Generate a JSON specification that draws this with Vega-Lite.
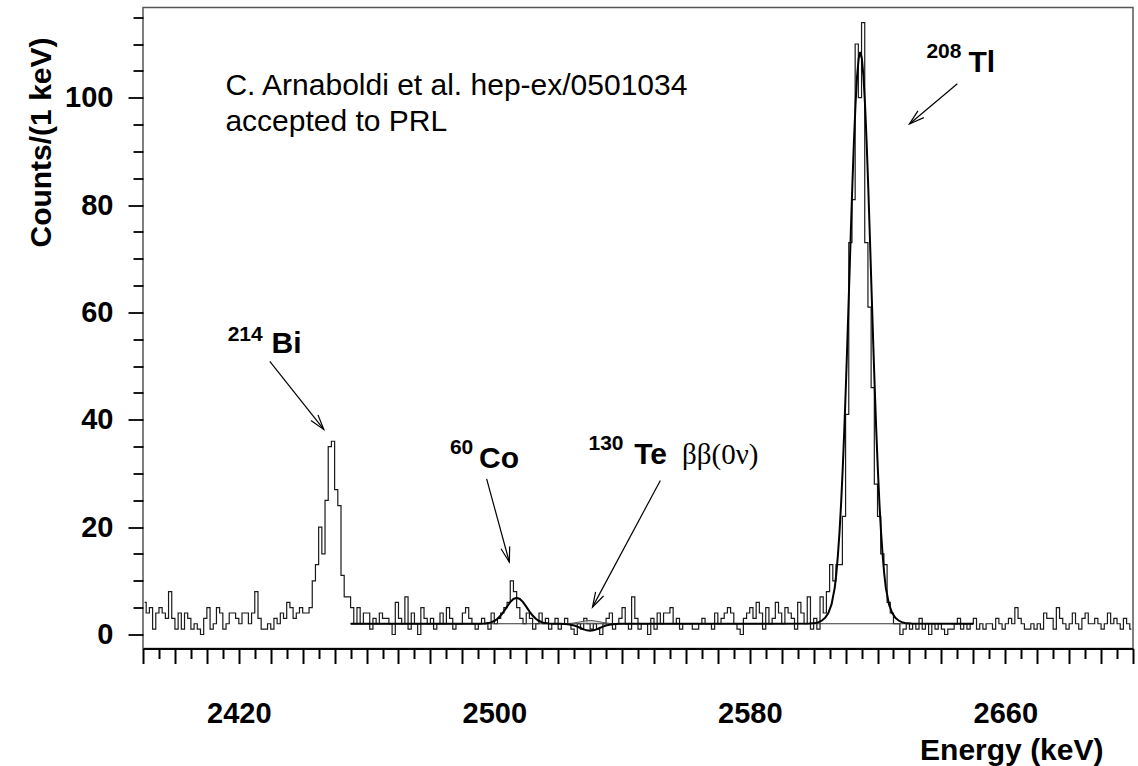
{
  "$schema": "https://vega.github.io/schema/vega-lite/v6.json",
  "width": 990,
  "height": 641,
  "autosize": {"type": "none"},
  "padding": {"left": 143, "top": 7.5, "right": 5, "bottom": 117.5},
  "background": "white",
  "config": {
    "view": {"stroke": "#555", "strokeWidth": 1.5},
    "font": "Liberation Sans"
  },
  "datasets": {
    "hist": [
      {"e":2390.5,"n":6},{"e":2391.5,"n":4},{"e":2392.5,"n":5},{"e":2393.5,"n":1},{"e":2394.5,"n":4},{"e":2395.5,"n":5},{"e":2396.5,"n":4},{"e":2397.5,"n":3},{"e":2398.5,"n":8},{"e":2399.5,"n":3},
      {"e":2400.5,"n":1},{"e":2401.5,"n":4},{"e":2402.5,"n":1},{"e":2403.5,"n":4},{"e":2404.5,"n":3},{"e":2405.5,"n":1},{"e":2406.5,"n":2},{"e":2407.5,"n":1},{"e":2408.5,"n":0},{"e":2409.5,"n":3},
      {"e":2410.5,"n":5},{"e":2411.5,"n":1},{"e":2412.5,"n":2},{"e":2413.5,"n":5},{"e":2414.5,"n":4},{"e":2415.5,"n":1},{"e":2416.5,"n":2},{"e":2417.5,"n":4},{"e":2418.5,"n":4},{"e":2419.5,"n":3},
      {"e":2420.5,"n":2},{"e":2421.5,"n":4},{"e":2422.5,"n":4},{"e":2423.5,"n":2},{"e":2424.5,"n":4},{"e":2425.5,"n":8},{"e":2426.5,"n":3},{"e":2427.5,"n":1},{"e":2428.5,"n":1},{"e":2429.5,"n":2},
      {"e":2430.5,"n":1},{"e":2431.5,"n":3},{"e":2432.5,"n":2},{"e":2433.5,"n":4},{"e":2434.5,"n":3},{"e":2435.5,"n":6},{"e":2436.5,"n":5},{"e":2437.5,"n":3},{"e":2438.5,"n":4},{"e":2439.5,"n":5},
      {"e":2440.5,"n":4},{"e":2441.5,"n":4},{"e":2442.5,"n":5},{"e":2443.5,"n":10},{"e":2444.5,"n":13},{"e":2445.5,"n":20},{"e":2446.5,"n":15},{"e":2447.5,"n":25},{"e":2448.5,"n":35},{"e":2449.5,"n":36},
      {"e":2450.5,"n":27},{"e":2451.5,"n":24},{"e":2452.5,"n":11},{"e":2453.5,"n":7},{"e":2454.5,"n":7},{"e":2455.5,"n":5},{"e":2456.5,"n":2},{"e":2457.5,"n":5},{"e":2458.5,"n":2},{"e":2459.5,"n":4},
      {"e":2460.5,"n":4},{"e":2461.5,"n":1},{"e":2462.5,"n":3},{"e":2463.5,"n":2},{"e":2464.5,"n":4},{"e":2465.5,"n":3},{"e":2466.5,"n":3},{"e":2467.5,"n":2},{"e":2468.5,"n":0},{"e":2469.5,"n":6},
      {"e":2470.5,"n":3},{"e":2471.5,"n":2},{"e":2472.5,"n":7},{"e":2473.5,"n":1},{"e":2474.5,"n":4},{"e":2475.5,"n":2},{"e":2476.5,"n":0},{"e":2477.5,"n":5},{"e":2478.5,"n":3},{"e":2479.5,"n":2},
      {"e":2480.5,"n":3},{"e":2481.5,"n":1},{"e":2482.5,"n":2},{"e":2483.5,"n":4},{"e":2484.5,"n":2},{"e":2485.5,"n":5},{"e":2486.5,"n":3},{"e":2487.5,"n":1},{"e":2488.5,"n":2},{"e":2489.5,"n":2},
      {"e":2490.5,"n":4},{"e":2491.5,"n":5},{"e":2492.5,"n":3},{"e":2493.5,"n":2},{"e":2494.5,"n":1},{"e":2495.5,"n":2},{"e":2496.5,"n":3},{"e":2497.5,"n":2},{"e":2498.5,"n":1},{"e":2499.5,"n":4},
      {"e":2500.5,"n":2},{"e":2501.5,"n":3},{"e":2502.5,"n":4},{"e":2503.5,"n":5},{"e":2504.5,"n":6},{"e":2505.5,"n":10},{"e":2506.5,"n":8},{"e":2507.5,"n":5},{"e":2508.5,"n":3},{"e":2509.5,"n":2},
      {"e":2510.5,"n":4},{"e":2511.5,"n":3},{"e":2512.5,"n":1},{"e":2513.5,"n":2},{"e":2514.5,"n":4},{"e":2515.5,"n":2},{"e":2516.5,"n":3},{"e":2517.5,"n":1},{"e":2518.5,"n":2},{"e":2519.5,"n":3},
      {"e":2520.5,"n":1},{"e":2521.5,"n":2},{"e":2522.5,"n":3},{"e":2523.5,"n":2},{"e":2524.5,"n":1},{"e":2525.5,"n":0},{"e":2526.5,"n":2},{"e":2527.5,"n":1},{"e":2528.5,"n":3},{"e":2529.5,"n":2},
      {"e":2530.5,"n":1},{"e":2531.5,"n":2},{"e":2532.5,"n":1},{"e":2533.5,"n":0},{"e":2534.5,"n":2},{"e":2535.5,"n":3},{"e":2536.5,"n":4},{"e":2537.5,"n":1},{"e":2538.5,"n":2},{"e":2539.5,"n":3},
      {"e":2540.5,"n":5},{"e":2541.5,"n":2},{"e":2542.5,"n":1},{"e":2543.5,"n":7},{"e":2544.5,"n":3},{"e":2545.5,"n":1},{"e":2546.5,"n":2},{"e":2547.5,"n":2},{"e":2548.5,"n":0},{"e":2549.5,"n":3},
      {"e":2550.5,"n":1},{"e":2551.5,"n":4},{"e":2552.5,"n":2},{"e":2553.5,"n":4},{"e":2554.5,"n":4},{"e":2555.5,"n":5},{"e":2556.5,"n":2},{"e":2557.5,"n":3},{"e":2558.5,"n":1},{"e":2559.5,"n":2},
      {"e":2560.5,"n":2},{"e":2561.5,"n":2},{"e":2562.5,"n":1},{"e":2563.5,"n":1},{"e":2564.5,"n":2},{"e":2565.5,"n":3},{"e":2566.5,"n":2},{"e":2567.5,"n":2},{"e":2568.5,"n":1},{"e":2569.5,"n":4},
      {"e":2570.5,"n":2},{"e":2571.5,"n":3},{"e":2572.5,"n":4},{"e":2573.5,"n":5},{"e":2574.5,"n":4},{"e":2575.5,"n":2},{"e":2576.5,"n":1},{"e":2577.5,"n":0},{"e":2578.5,"n":3},{"e":2579.5,"n":4},
      {"e":2580.5,"n":5},{"e":2581.5,"n":3},{"e":2582.5,"n":6},{"e":2583.5,"n":4},{"e":2584.5,"n":1},{"e":2585.5,"n":5},{"e":2586.5,"n":2},{"e":2587.5,"n":3},{"e":2588.5,"n":6},{"e":2589.5,"n":4},
      {"e":2590.5,"n":2},{"e":2591.5,"n":5},{"e":2592.5,"n":4},{"e":2593.5,"n":3},{"e":2594.5,"n":1},{"e":2595.5,"n":6},{"e":2596.5,"n":4},{"e":2597.5,"n":2},{"e":2598.5,"n":7},{"e":2599.5,"n":1},
      {"e":2600.5,"n":3},{"e":2601.5,"n":1},{"e":2602.5,"n":7},{"e":2603.5,"n":4},{"e":2604.5,"n":8},{"e":2605.5,"n":13},{"e":2606.5,"n":10},{"e":2607.5,"n":13},{"e":2608.5,"n":13},{"e":2609.5,"n":22},
      {"e":2610.5,"n":41},{"e":2611.5,"n":73},{"e":2612.5,"n":81},{"e":2613.5,"n":110},{"e":2614.5,"n":100},{"e":2615.5,"n":114},{"e":2616.5,"n":73},{"e":2617.5,"n":61},{"e":2618.5,"n":46},{"e":2619.5,"n":28},
      {"e":2620.5,"n":22},{"e":2621.5,"n":15},{"e":2622.5,"n":13},{"e":2623.5,"n":6},{"e":2624.5,"n":4},{"e":2625.5,"n":2},{"e":2626.5,"n":2},{"e":2627.5,"n":0},{"e":2628.5,"n":1},{"e":2629.5,"n":2},
      {"e":2630.5,"n":1},{"e":2631.5,"n":2},{"e":2632.5,"n":1},{"e":2633.5,"n":3},{"e":2634.5,"n":1},{"e":2635.5,"n":2},{"e":2636.5,"n":0},{"e":2637.5,"n":2},{"e":2638.5,"n":1},{"e":2639.5,"n":2},
      {"e":2640.5,"n":1},{"e":2641.5,"n":0},{"e":2642.5,"n":1},{"e":2643.5,"n":1},{"e":2644.5,"n":2},{"e":2645.5,"n":3},{"e":2646.5,"n":1},{"e":2647.5,"n":2},{"e":2648.5,"n":1},{"e":2649.5,"n":2},
      {"e":2650.5,"n":3},{"e":2651.5,"n":1},{"e":2652.5,"n":2},{"e":2653.5,"n":1},{"e":2654.5,"n":2},{"e":2655.5,"n":2},{"e":2656.5,"n":1},{"e":2657.5,"n":3},{"e":2658.5,"n":2},{"e":2659.5,"n":1},
      {"e":2660.5,"n":2},{"e":2661.5,"n":3},{"e":2662.5,"n":2},{"e":2663.5,"n":5},{"e":2664.5,"n":3},{"e":2665.5,"n":2},{"e":2666.5,"n":1},{"e":2667.5,"n":1},{"e":2668.5,"n":2},{"e":2669.5,"n":1},
      {"e":2670.5,"n":2},{"e":2671.5,"n":1},{"e":2672.5,"n":4},{"e":2673.5,"n":3},{"e":2674.5,"n":3},{"e":2675.5,"n":1},{"e":2676.5,"n":5},{"e":2677.5,"n":3},{"e":2678.5,"n":2},{"e":2679.5,"n":1},
      {"e":2680.5,"n":2},{"e":2681.5,"n":4},{"e":2682.5,"n":2},{"e":2683.5,"n":1},{"e":2684.5,"n":3},{"e":2685.5,"n":4},{"e":2686.5,"n":2},{"e":2687.5,"n":2},{"e":2688.5,"n":3},{"e":2689.5,"n":2},
      {"e":2690.5,"n":1},{"e":2691.5,"n":2},{"e":2692.5,"n":4},{"e":2693.5,"n":2},{"e":2694.5,"n":3},{"e":2695.5,"n":2},{"e":2696.5,"n":1},{"e":2697.5,"n":3},{"e":2698.5,"n":2},{"e":2699.5,"n":1}
    ],
    "fit": [
      {"e":2455,"f":2},{"e":2495,"f":2.01},{"e":2497,"f":2.05},{"e":2498,"f":2.12},{"e":2499,"f":2.26},{"e":2500,"f":2.51},{"e":2501,"f":2.93},{"e":2502,"f":3.54},{"e":2503,"f":4.32},{"e":2504,"f":5.2},{"e":2505,"f":6.03},{"e":2506,"f":6.62},{"e":2507,"f":6.84},{"e":2508,"f":6.62},{"e":2509,"f":6.03},{"e":2510,"f":5.2},{"e":2511,"f":4.32},{"e":2512,"f":3.54},{"e":2513,"f":2.93},{"e":2514,"f":2.51},{"e":2515,"f":2.26},{"e":2516,"f":2.12},{"e":2517,"f":2.05},{"e":2519,"f":2.01},
      {"e":2521,"f":1.99},{"e":2522,"f":1.96},{"e":2523,"f":1.91},{"e":2524,"f":1.82},{"e":2525,"f":1.68},{"e":2526,"f":1.47},{"e":2527,"f":1.21},{"e":2528,"f":0.96},{"e":2529,"f":0.77},{"e":2530,"f":0.7},{"e":2531,"f":0.77},{"e":2532,"f":0.96},{"e":2533,"f":1.21},{"e":2534,"f":1.47},{"e":2535,"f":1.68},{"e":2536,"f":1.82},{"e":2537,"f":1.91},{"e":2538,"f":1.96},{"e":2539,"f":1.99},{"e":2541,"f":2.0},
      {"e":2598.6,"f":2.03},{"e":2600.6,"f":2.15},{"e":2601.6,"f":2.3},{"e":2602.6,"f":2.6},{"e":2603.6,"f":3.1},{"e":2604.6,"f":4.0},{"e":2605.6,"f":5.6},{"e":2606.6,"f":8.69},{"e":2607.1,"f":11.35},{"e":2607.6,"f":14.8},{"e":2608.1,"f":19.1},{"e":2608.6,"f":24.4},{"e":2609.1,"f":30.8},{"e":2609.6,"f":38.1},{"e":2610.1,"f":46.4},{"e":2610.6,"f":55.3},{"e":2611.1,"f":64.7},{"e":2611.6,"f":74.2},{"e":2612.1,"f":83.3},{"e":2612.6,"f":91.6},{"e":2613.1,"f":98.6},{"e":2613.6,"f":104.0},{"e":2614.1,"f":107.3},{"e":2614.6,"f":108.5},
      {"e":2615.1,"f":107.3},{"e":2615.6,"f":104.0},{"e":2616.1,"f":98.6},{"e":2616.6,"f":91.6},{"e":2617.1,"f":83.3},{"e":2617.6,"f":74.2},{"e":2618.1,"f":64.7},{"e":2618.6,"f":55.3},{"e":2619.1,"f":46.4},{"e":2619.6,"f":38.1},{"e":2620.1,"f":30.8},{"e":2620.6,"f":24.4},{"e":2621.1,"f":19.1},{"e":2621.6,"f":14.8},{"e":2622.1,"f":11.35},{"e":2622.6,"f":8.69},{"e":2623.6,"f":5.6},{"e":2624.6,"f":4.0},{"e":2625.6,"f":3.1},{"e":2626.6,"f":2.6},{"e":2627.6,"f":2.3},{"e":2628.6,"f":2.15},{"e":2630.6,"f":2.03},{"e":2650,"f":2.0}
    ],
    "ul": [
      {"e":2520,"f":2.0},{"e":2521,"f":2.01},{"e":2522,"f":2.02},{"e":2523,"f":2.04},{"e":2524,"f":2.08},{"e":2525,"f":2.15},{"e":2526,"f":2.25},{"e":2527,"f":2.36},{"e":2528,"f":2.48},{"e":2529,"f":2.57},{"e":2530,"f":2.6},{"e":2531,"f":2.57},{"e":2532,"f":2.48},{"e":2533,"f":2.36},{"e":2534,"f":2.25},{"e":2535,"f":2.15},{"e":2536,"f":2.08},{"e":2537,"f":2.04},{"e":2538,"f":2.02},{"e":2539,"f":2.01},{"e":2540,"f":2.0}
    ],
    "bg": [{"e":2455,"f":2},{"e":2650,"f":2}],
    "arrows": [
      {"id":"Bi","x":2429.7,"y":50.9,"x2":2446.6,"y2":38.2},
      {"id":"Co","x":2497.6,"y":29.0,"x2":2504.7,"y2":13.5},
      {"id":"Te","x":2552.0,"y":28.7,"x2":2530.75,"y2":5.1},
      {"id":"Tl","x":2645.0,"y":102.6,"x2":2630.0,"y2":95.1}
    ],
    "big": [
      {"x":2430.25,"y":52.4,"t":"Bi"},
      {"x":2495.2,"y":31.1,"t":"Co"},
      {"x":2543.8,"y":31.8,"t":"Te"},
      {"x":2648.5,"y":104.8,"t":"Tl"}
    ],
    "sup": [
      {"x":2416.5,"y":54.7,"t":"214"},
      {"x":2486.1,"y":33.7,"t":"60"},
      {"x":2529.5,"y":34.4,"t":"130"},
      {"x":2635.3,"y":107.4,"t":"208"}
    ],
    "cite": [
      {"x":2415.8,"y":100.5,"t":"C. Arnaboldi et al. hep-ex/0501034"},
      {"x":2415.8,"y":93.8,"t":"accepted to PRL"}
    ],
    "greek": [{"x":2558.8,"y":31.8,"t":"ββ(0ν)"}]
  },
  "layer": [
    {
      "data": {"name": "hist"},
      "mark": {"type": "line", "interpolate": "step", "color": "#1a1a1a", "strokeWidth": 1.2},
      "encoding": {
        "x": {
          "field": "e", "type": "quantitative",
          "scale": {"domain": [2390, 2700], "nice": false, "zero": false},
          "axis": {
            "values": [2390,2395,2400,2405,2410,2415,2420,2425,2430,2435,2440,2445,2450,2455,2460,2465,2470,2475,2480,2485,2490,2495,2500,2505,2510,2515,2520,2525,2530,2535,2540,2545,2550,2555,2560,2565,2570,2575,2580,2585,2590,2595,2600,2605,2610,2615,2620,2625,2630,2635,2640,2645,2650,2655,2660,2665,2670,2675,2680,2685,2690,2695,2700],
            "tickCount": 500,
            "format": "d",
            "labelExpr": "datum.value % 80 == 20 ? datum.label : ''",
            "tickSize": {"condition": {"test": "datum.value % 10 == 0", "value": 15}, "value": 10},
            "tickWidth": 2, "tickColor": "black",
            "domainColor": "black", "domainWidth": 2,
            "grid": false,
            "labelFont": "Liberation Sans", "labelFontWeight": "bold", "labelFontSize": 29, "labelColor": "black",
            "labelPadding": 36, "labelOverlap": false, "labelFlush": false, "labelBound": false,
            "title": "Energy (keV)",
            "titleFont": "Liberation Sans", "titleFontWeight": "bold", "titleFontSize": 30, "titleColor": "black",
            "titleAlign": "right", "titleBaseline": "alphabetic", "titleX": 960, "titleY": 110.5
          }
        },
        "y": {
          "field": "n", "type": "quantitative",
          "scale": {"domain": [-2.61, 116.8], "nice": false, "zero": false},
          "axis": {
            "values": [0,5,10,15,20,25,30,35,40,45,50,55,60,65,70,75,80,85,90,95,100,105,110,115],
            "tickCount": 500,
            "format": "d",
            "labelExpr": "datum.value % 20 == 0 ? datum.label : ''",
            "tickSize": {"condition": {"test": "datum.value % 20 == 0", "value": 15}, "value": 10},
            "tickWidth": 1.8, "tickColor": "black",
            "domain": false,
            "grid": false,
            "labelFont": "Liberation Sans", "labelFontWeight": "bold", "labelFontSize": 29, "labelColor": "black",
            "labelPadding": 15, "labelOverlap": false, "labelFlush": false, "labelBound": false, "labelBaseline": "middle",
            "title": "Counts/(1 keV)",
            "titleFont": "Liberation Sans", "titleFontWeight": "bold", "titleFontSize": 30, "titleColor": "black",
            "titleAngle": -90, "titleAlign": "right", "titleBaseline": "alphabetic", "titleX": -93, "titleY": 29.5
          }
        }
      }
    },
    {
      "data": {"name": "ul"},
      "mark": {"type": "area", "color": "#c8c8c8", "opacity": 0.8},
      "encoding": {
        "x": {"field": "e", "type": "quantitative"},
        "y": {"field": "f", "type": "quantitative"},
        "y2": {"datum": 2}
      }
    },
    {
      "data": {"name": "bg"},
      "mark": {"type": "line", "color": "#333", "strokeWidth": 1},
      "encoding": {
        "x": {"field": "e", "type": "quantitative"},
        "y": {"field": "f", "type": "quantitative"}
      }
    },
    {
      "data": {"name": "ul"},
      "mark": {"type": "line", "color": "#555", "strokeWidth": 1},
      "encoding": {
        "x": {"field": "e", "type": "quantitative"},
        "y": {"field": "f", "type": "quantitative"}
      }
    },
    {
      "data": {"name": "fit"},
      "mark": {"type": "line", "color": "black", "strokeWidth": 2},
      "encoding": {
        "x": {"field": "e", "type": "quantitative"},
        "y": {"field": "f", "type": "quantitative"}
      }
    },
    {
      "data": {"name": "arrows"},
      "mark": {"type": "rule", "color": "black", "strokeWidth": 1.2},
      "encoding": {
        "x": {"field": "x", "type": "quantitative"},
        "y": {"field": "y", "type": "quantitative"},
        "x2": {"field": "x2"},
        "y2": {"field": "y2"}
      }
    },
    {
      "data": {"name": "arrows"},
      "transform": [{"filter": "datum.id == 'Bi'"}],
      "mark": {"type": "point", "shape": "M -0.3 -1 L 0 0 L 0.3 -1", "size": 900, "filled": false, "stroke": "black", "strokeWidth": 1.2, "opacity": 1, "angle": -38.3},
      "encoding": {"x": {"field": "x2", "type": "quantitative"}, "y": {"field": "y2", "type": "quantitative"}}
    },
    {
      "data": {"name": "arrows"},
      "transform": [{"filter": "datum.id == 'Co'"}],
      "mark": {"type": "point", "shape": "M -0.3 -1 L 0 0 L 0.3 -1", "size": 900, "filled": false, "stroke": "black", "strokeWidth": 1.2, "opacity": 1, "angle": -15.2},
      "encoding": {"x": {"field": "x2", "type": "quantitative"}, "y": {"field": "y2", "type": "quantitative"}}
    },
    {
      "data": {"name": "arrows"},
      "transform": [{"filter": "datum.id == 'Te'"}],
      "mark": {"type": "point", "shape": "M -0.3 -1 L 0 0 L 0.3 -1", "size": 900, "filled": false, "stroke": "black", "strokeWidth": 1.2, "opacity": 1, "angle": 28.1},
      "encoding": {"x": {"field": "x2", "type": "quantitative"}, "y": {"field": "y2", "type": "quantitative"}}
    },
    {
      "data": {"name": "arrows"},
      "transform": [{"filter": "datum.id == 'Tl'"}],
      "mark": {"type": "point", "shape": "M -0.3 -1 L 0 0 L 0.3 -1", "size": 900, "filled": false, "stroke": "black", "strokeWidth": 1.2, "opacity": 1, "angle": 49.5},
      "encoding": {"x": {"field": "x2", "type": "quantitative"}, "y": {"field": "y2", "type": "quantitative"}}
    },
    {
      "data": {"name": "big"},
      "mark": {"type": "text", "align": "left", "baseline": "alphabetic", "font": "Liberation Sans", "fontWeight": "bold", "fontSize": 30, "color": "black"},
      "encoding": {"x": {"field": "x", "type": "quantitative"}, "y": {"field": "y", "type": "quantitative"}, "text": {"field": "t"}}
    },
    {
      "data": {"name": "sup"},
      "mark": {"type": "text", "align": "left", "baseline": "alphabetic", "font": "Liberation Sans", "fontWeight": "bold", "fontSize": 21, "color": "black"},
      "encoding": {"x": {"field": "x", "type": "quantitative"}, "y": {"field": "y", "type": "quantitative"}, "text": {"field": "t"}}
    },
    {
      "data": {"name": "cite"},
      "mark": {"type": "text", "align": "left", "baseline": "alphabetic", "font": "Liberation Sans", "fontSize": 30, "color": "black"},
      "encoding": {"x": {"field": "x", "type": "quantitative"}, "y": {"field": "y", "type": "quantitative"}, "text": {"field": "t"}}
    },
    {
      "data": {"name": "greek"},
      "mark": {"type": "text", "align": "left", "baseline": "alphabetic", "font": "Liberation Serif", "fontSize": 29, "color": "black"},
      "encoding": {"x": {"field": "x", "type": "quantitative"}, "y": {"field": "y", "type": "quantitative"}, "text": {"field": "t"}}
    }
  ]
}
